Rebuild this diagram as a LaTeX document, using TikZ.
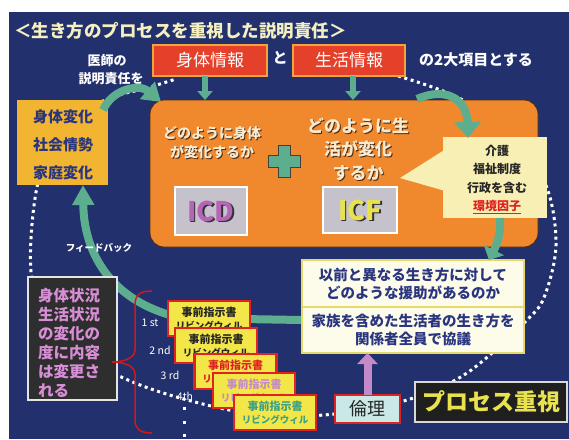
\documentclass[tikz,border=0pt]{standalone}
\usepackage{fontspec}
\setmainfont{Noto Sans CJK JP}
\usetikzlibrary{arrows.meta,calc}
\definecolor{navy}{HTML}{22306E}
\definecolor{titleC}{HTML}{F4F0C0}
\definecolor{orangeC}{HTML}{F0892E}
\definecolor{brownD}{HTML}{4A2A12}
\definecolor{goldC}{HTML}{F2B531}
\definecolor{greenC}{HTML}{5DAE8E}
\definecolor{redC}{HTML}{E4402A}
\definecolor{redB}{HTML}{F2A33A}
\definecolor{calloutC}{HTML}{F8EFB5}
\definecolor{wboxC}{HTML}{FDFCEB}
\definecolor{wboxB}{HTML}{E6D86A}
\definecolor{navytxt}{HTML}{2A3580}
\definecolor{grayC}{HTML}{C6C2CC}
\definecolor{purpleC}{HTML}{B565B8}
\definecolor{icfC}{HTML}{E8E24E}
\definecolor{pinkC}{HTML}{D88ED6}
\definecolor{darkC}{HTML}{2E2E2E}
\definecolor{cardY}{HTML}{F2E648}
\definecolor{cardR}{HTML}{E02222}
\definecolor{mauveC}{HTML}{C48AC8}
\definecolor{tealC}{HTML}{3FA283}
\definecolor{cyanC}{HTML}{C9E8E6}
\definecolor{envred}{HTML}{E02020}
\definecolor{creamT}{HTML}{FAEBD0}
\definecolor{braceC}{HTML}{D01818}
\begin{document}
\begin{tikzpicture}[x=1pt,y=-1pt,
  every node/.style={inner sep=0pt, outer sep=0pt},
  dotloop/.style={white, line width=3pt, dash pattern=on 3pt off 3.6pt},
  wtext/.style={text=white, font=\bfseries\fontsize{15}{18}\selectfont},
  redbox/.style={draw=redB, line width=1.3pt, fill=redC, text=white, font=\fontsize{17}{20}\selectfont, minimum height=31pt},
  garrow/.style={draw=greenC, line width=8pt, -{Triangle[length=18pt,width=22pt]}},
  darrow/.style={draw=greenC, line width=6pt, -{Triangle[length=9pt,width=15pt]}},
  marrow/.style={draw=mauveC, line width=8pt, -{Triangle[length=11pt,width=20pt]}},
  otext/.style={text=creamT, align=center},
  oshadow/.style={text=brownD, align=center},
  graybox/.style={fill=grayC, draw=white, line width=1.5pt},
  bigletters/.style={font=\bfseries\fontsize{27}{30}\selectfont},
  wbox/.style={fill=wboxC, draw=wboxB, line width=1.3pt, minimum width=222pt, text=navytxt, align=center, font=\bfseries\fontsize{14.5}{18}\selectfont},
  card/.style={draw=cardR, line width=2.6pt, fill=cardY, minimum width=82pt, minimum height=35pt, align=center, font=\bfseries\fontsize{11}{12.5}\selectfont},
  ordlabel/.style={text=white, font=\fontsize{10.5}{12}\selectfont},
  smalldot/.style={fill=white}
]
\useasboundingbox (0,0) rectangle (569,439);
\fill[white] (0,0) rectangle (569,439);
\fill[navy] (9,12) rectangle (569,439);

% dotted loop (open at the top, hidden behind the header)
\draw[dotloop] plot[smooth, tension=0.55] coordinates {(398,76) (457,97) (515,135) (547,188) (556,245) (545,295) (527,320) (467,373) (407,400) (335,414) (260,415) (180,398) (117,375) (50,335) (31,272) (37,187) (60,130) (105,100) (147,88) (176,79)};

% title and header
\node[anchor=west, text=titleC, font=\bfseries\fontsize{17.5}{20}\selectfont] (title) at (14,31) {＜生き方のプロセスを重視した説明責任＞};
\node[wtext, font=\bfseries\fontsize{13}{18}\selectfont] (ishi1) at (107,61) {医師の};
\node[wtext, font=\bfseries\fontsize{13}{18}\selectfont] (ishi2) at (111,79) {説明責任を};
\node[redbox, minimum width=114pt] (shintai) at (210,60.5) {身体情報};
\node[wtext] (to) at (280,58) {と};
\node[redbox, minimum width=112pt] (seikatsu) at (349,60.5) {生活情報};
\node[wtext] (nini) at (476,60) {の2大項目とする};

% orange box
\node[draw=brownD, line width=0.8pt, fill=orangeC, rounded corners=14pt, minimum width=388pt, minimum height=147pt] (orange) at (344,173.5) {};

\draw[darrow] ($(shintai.south)+(-5,0)$) -- ($(shintai.south |- orange.north)+(-5,0)$);
\draw[darrow] ($(seikatsu.south)+(4,0)$) -- ($(seikatsu.south |- orange.north)+(4,0)$);

% yellow box
\node[fill=goldC, minimum width=91pt, minimum height=85pt] (yellow) at (62.5,142.5) {};
\node[text=navytxt, align=center, font=\bfseries\fontsize{15}{28}\selectfont] (ytext) at (63,145) {身体変化\\社会情勢\\家庭変化};

\draw[garrow] ($(yellow.north east)+(-5,10)$) .. controls (113,88) and (140,84) .. ($(orange.north west)+(11,2)$);

% texts in orange
\node[oshadow, font=\bfseries\fontsize{14}{19}\selectfont] (q1s) at (213.2,143.7) {どのように身体\\が変化するか};
\node[otext, font=\bfseries\fontsize{14}{19}\selectfont] (q1) at (212,142.5) {どのように身体\\が変化するか};
\node[oshadow, font=\bfseries\fontsize{17}{23.5}\selectfont] (q2s) at (359.2,150.2) {どのように生\\活が変化\\するか};
\node[otext, font=\bfseries\fontsize{17}{23.5}\selectfont] (q2) at (358,149) {どのように生\\活が変化\\するか};

% plus
\filldraw[fill=greenC, draw=black!75, line width=1pt] (278,145) -- (290,145) -- (290,155) -- (300,155) -- (300,167) -- (290,167) -- (290,177) -- (278,177) -- (278,167) -- (268,167) -- (268,155) -- (278,155) -- cycle;

% ICD / ICF
\node[graybox, minimum width=72pt, minimum height=48pt] (icd) at (211,211) {};
\node[bigletters, text=black!80] (icds) at (212.5,212.5) {ICD};
\node[bigletters, text=purpleC] (icdt) at (211,211) {ICD};
\node[graybox, minimum width=74pt, minimum height=46pt] (icf) at (360,210) {};
\node[bigletters, text=black!80] (icfs) at (361.5,211.5) {ICF};
\node[bigletters, text=icfC] (icft) at (360,210) {ICF};

% callout
\node[fill=calloutC, minimum width=104pt, minimum height=81pt] (cal) at (495,177.5) {};
\fill[calloutC] ($(cal.west)+(0.5,-27)$) -- (400,178) -- ($(cal.west)+(0.5,13)$) -- cycle;
\node[align=center, text=black!85, font=\bfseries\fontsize{12}{18.3}\selectfont] (caltext) at (497,179.5) {介護\\福祉制度\\行政を含む\\{\color{envred}\underline{環境因子}}};

\draw[garrow, -{Triangle[length=16pt,width=26pt]}] ($(orange.north)+(73,-1)$) .. controls (447,86) and (467,100) .. ($(cal.north)+(-27,1)$);

% white boxes
\node[wbox, minimum height=47pt] (w1) at (413,283.5) {以前と異なる生き方に対して\\どのような援助があるのか};

\draw[garrow, -{Triangle[length=11pt,width=22pt]}] ($(cal.south)+(5,0)$) .. controls (501,236) and (496,246) .. ($(w1.north)+(76,0)$);

% feedback arrow
\draw[garrow, -{Triangle[length=20pt,width=21pt]}] (302,320) -- (182,318) .. controls (120,305) and (84,262) .. ($(yellow.south)+(20.5,0)$);
\node[text=white, font=\bfseries\fontsize{9.5}{11}\selectfont] (fb) at (99,248) {フィードバック};

\node[wbox, minimum height=46pt] (w2) at (413,330) {家族を含めた生活者の生き方を\\関係者全員で協議};

% dark box
\node[fill=darkC, draw=white!90!black, line width=1.2pt, minimum width=89pt, minimum height=123pt] (dbox) at (72.5,338.5) {};
\node[anchor=west, text=pinkC, align=left, font=\bfseries\fontsize{15.5}{19}\selectfont] (dtext) at (38,342.5) {身体状況\\生活状況\\の変化の\\度に内容\\は変更さ\\れる};

% brace
\draw[braceC, line width=1.5pt] (152,291) .. controls (140,291) and (135,295) .. (135,305) -- (135,350) .. controls (135,358) and (124,362) .. (112,362) .. controls (124,362) and (135,366) .. (135,374) -- (135,420) .. controls (135,429) and (140,433) .. (152,433);

% ordinal labels
\node[ordlabel] (l1) at (150,323) {1 st};
\node[ordlabel] (l2) at (160,350) {2 nd};
\node[ordlabel] (l3) at (170,375) {3 rd};
\node[ordlabel] (l4) at (185,396) {4th};
\fill[smalldot] (182.5,406.5) rectangle +(3,3);
\fill[smalldot] (182.5,420.5) rectangle +(3,3);
\fill[smalldot] (182.5,433.5) rectangle +(3,3);

% cards
\node[card, text=black!85] (c1) at (209,318.5) {事前指示書\\{\fontsize{9.5}{11}\selectfont リビングウィル}};
\node[card, text=black!85] (c2) at (216,345.5) {事前指示書\\{\fontsize{9.5}{11}\selectfont リビングウィル}};
\node[card, text=envred] (c3) at (235.5,371.5) {事前指示書\\{\fontsize{9.5}{11}\selectfont リビングウィル}};
\node[card, text=mauveC] (c4) at (254,390.5) {事前指示書\\{\fontsize{9.5}{11}\selectfont リビングウィル}};
\node[card, text=tealC] (c5) at (275,412.5) {事前指示書\\{\fontsize{9.5}{11}\selectfont リビングウィル}};

% ethics and process
\node[fill=cyanC, draw=cardR, line width=1.5pt, minimum width=65pt, minimum height=28pt, font=\fontsize{18}{20}\selectfont, text=black!85] (rinri) at (367.5,409) {倫理};
\draw[marrow] (rinri.north) -- (w2.south -| rinri.north);
\node[fill=black!88, draw=white!85!black, line width=1.5pt, minimum width=152pt, minimum height=40pt, text=icfC, font=\bfseries\fontsize{23}{26}\selectfont] (proc) at (491,402) {プロセス重視};
\end{tikzpicture}
\end{document}
